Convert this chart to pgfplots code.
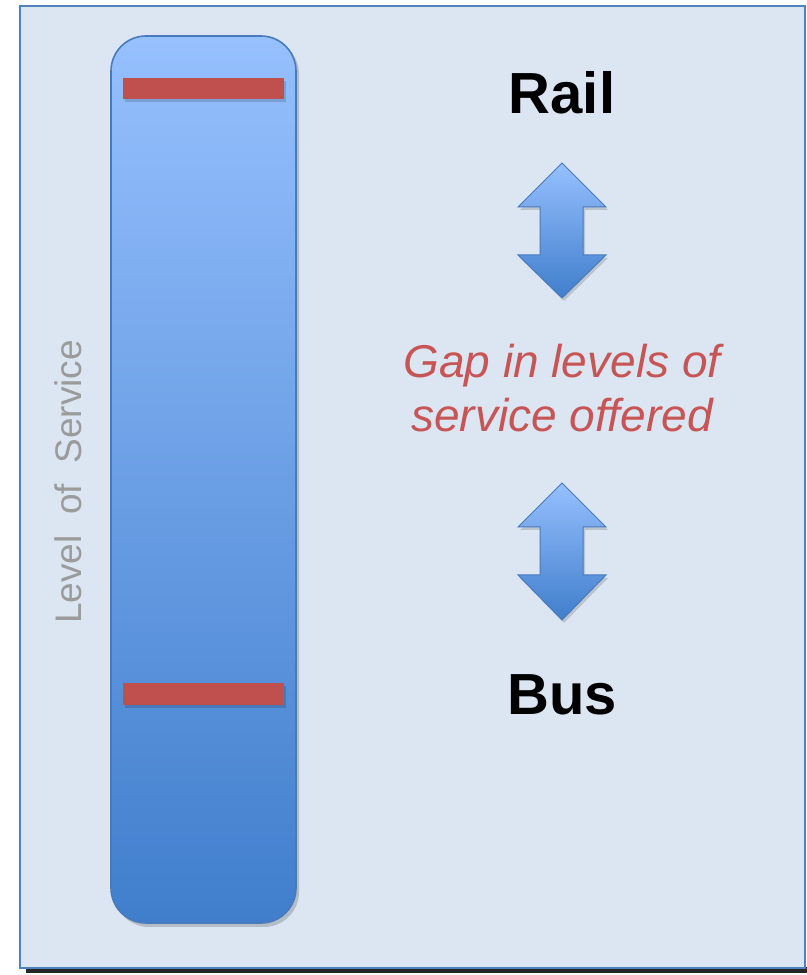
\documentclass[border=0pt]{standalone}
\usepackage{fontspec}
\setmainfont{Liberation Sans}
\usepackage{pgfplots}
\pgfplotsset{compat=1.18}
\definecolor{framefill}{RGB}{220,230,242}
\definecolor{frameblue}{RGB}{79,129,189}
\definecolor{bartop}{RGB}{150,192,254}
\definecolor{barbot}{RGB}{64,126,204}
\definecolor{barline}{RGB}{72,122,190}
\definecolor{redbar}{RGB}{192,80,77}
\definecolor{gaptext}{RGB}{200,85,85}
\definecolor{graytext}{RGB}{155,155,155}
\begin{document}
\begin{tikzpicture}
\begin{axis}[width=403.5pt,height=487.5pt,scale only axis,
  xmin=0,xmax=807,ymin=0,ymax=975,axis lines=none,clip=false,no markers]
% background
\addplot[draw=none,fill=white] coordinates {(0,0)(807,0)(807,975)(0,975)} -- cycle;
% frame shadow
\addplot[draw=none,fill=black!85] coordinates {(26,1.5)(807,1.5)(807,8)(26,8)} -- cycle;
% frame
\addplot[draw=frameblue,line width=1.1pt,fill=framefill] coordinates {(20,7)(805,7)(805,969)(20,969)} -- cycle;
% bar shadow
\addplot[draw=none,fill=black,fill opacity=0.18,rounded corners=17.5pt] coordinates {(114,495)(114,936)(299,936)(299,48)(114,48)} -- cycle;
% level-of-service bar
\addplot[draw=barline,line width=0.8pt,top color=bartop,bottom color=barbot,rounded corners=17.5pt] coordinates {(111,495)(111,939)(296,939)(296,52)(111,52)} -- cycle;
% red markers (shadow + bar)
\addplot[draw=none,fill=black,fill opacity=0.15] coordinates {(125,873)(286,873)(286,894)(125,894)} -- cycle;
\addplot[draw=none,fill=redbar] coordinates {(123,876)(284,876)(284,897)(123,897)} -- cycle;
\addplot[draw=none,fill=black,fill opacity=0.15] coordinates {(125,267)(286,267)(286,289)(125,289)} -- cycle;
\addplot[draw=none,fill=redbar] coordinates {(123,270)(284,270)(284,292)(123,292)} -- cycle;
% arrow shadows
\addplot[draw=none,fill=black,fill opacity=0.15] coordinates {(564,809)(608,765)(585,765)(585,717)(608,717)(564,674)(520,717)(542,717)(542,765)(520,765)} -- cycle;
\addplot[draw=none,fill=black,fill opacity=0.15] coordinates {(564,489)(608,445)(585,445)(585,397)(608,397)(564,352)(520,397)(542,397)(542,445)(520,445)} -- cycle;
% arrows
\addplot[draw=barline,line width=0.5pt,top color=bartop,bottom color=barbot] coordinates {(562,812)(606,768)(583,768)(583,720)(606,720)(562,677)(518,720)(540,720)(540,768)(518,768)} -- cycle;
\addplot[draw=barline,line width=0.5pt,top color=bartop,bottom color=barbot] coordinates {(562,492)(606,448)(583,448)(583,400)(606,400)(562,355)(518,400)(540,400)(540,448)(518,448)} -- cycle;
% texts
\node[font=\fontsize{29}{34}\selectfont\bfseries] at (axis cs:562,882) {Rail};
\node[font=\fontsize{29}{34}\selectfont\bfseries] at (axis cs:562,280) {Bus};
\node[anchor=base,text=gaptext,font=\fontsize{23}{28}\selectfont\itshape] at (axis cs:562,597) {Gap in levels of};
\node[anchor=base,text=gaptext,font=\fontsize{23}{28}\selectfont\itshape] at (axis cs:562,543) {service offered};
\node[rotate=90,text=graytext,font=\fontsize{18.5}{22}\selectfont] at (axis cs:68,493) {Level\ \ of\ \ Service};
\end{axis}
\end{tikzpicture}
\end{document}
